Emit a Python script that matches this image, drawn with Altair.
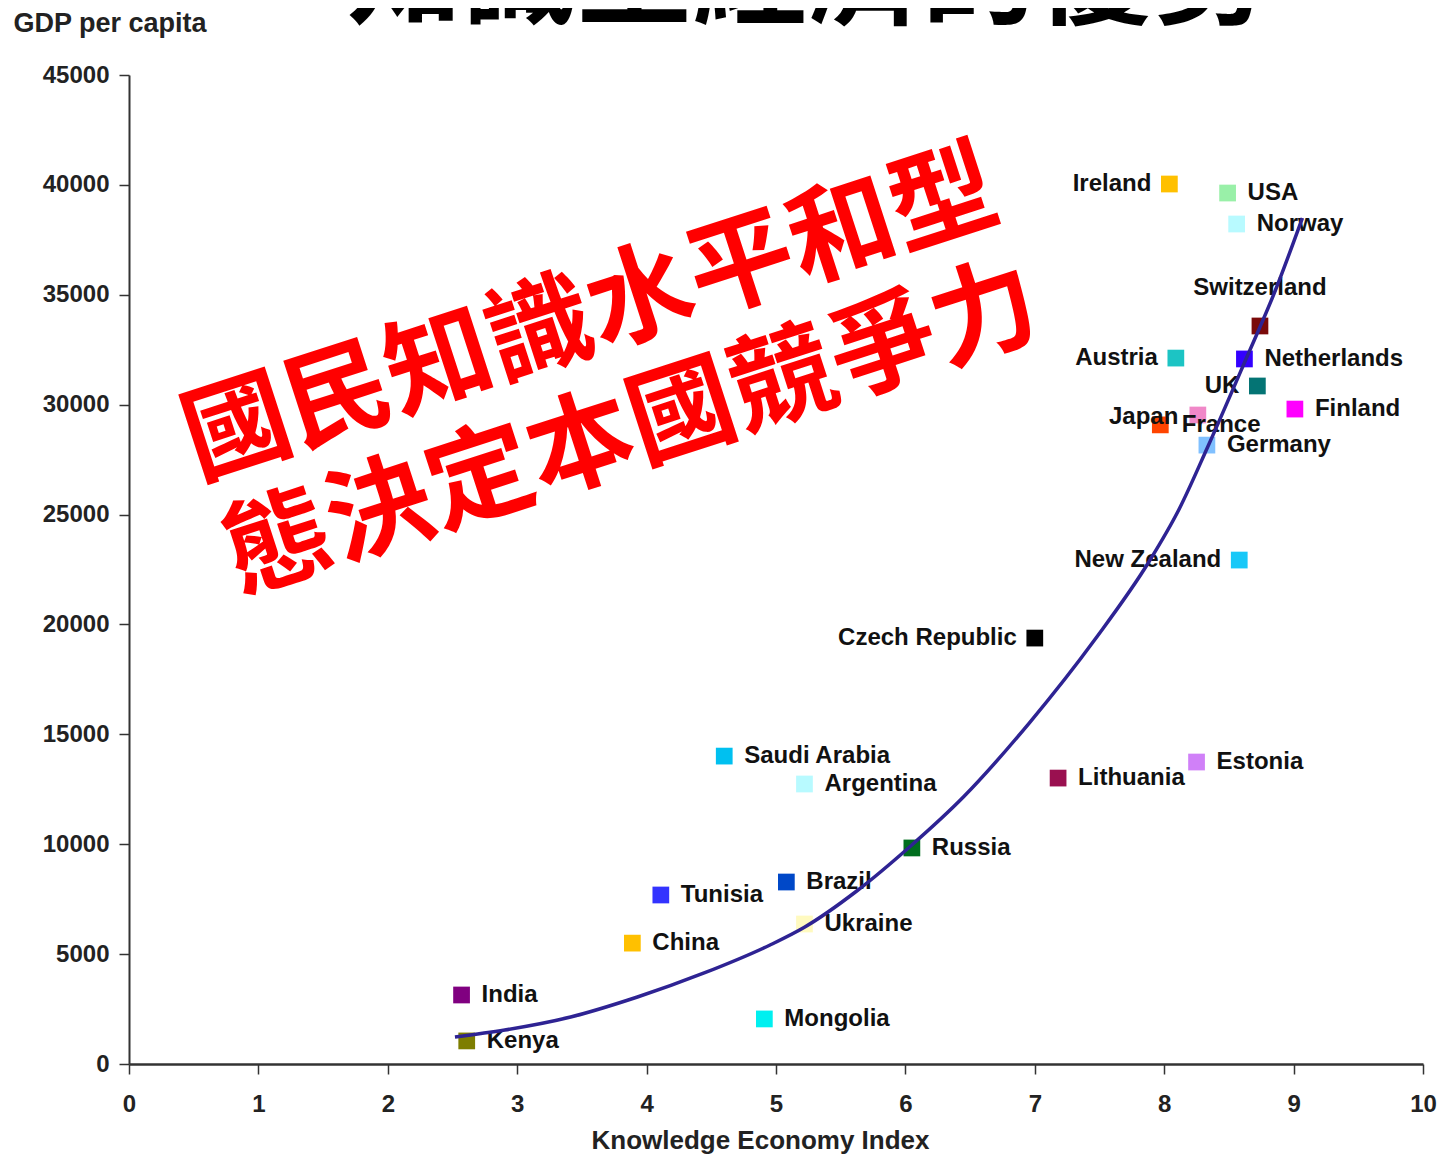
import altair as alt
import pandas as pd

# ---- data ----
countries = ["Ireland", "USA", "Norway", "Switzerland", "Austria", "Netherlands", "UK",
             "Finland", "France", "Japan", "Germany", "New Zealand", "Czech Republic",
             "Saudi Arabia", "Argentina", "Lithuania", "Estonia", "Russia", "Brazil",
             "Tunisia", "Ukraine", "China", "India", "Mongolia", "Kenya"]
kei = [8.04, 8.49, 8.56, 8.74, 8.09, 8.62, 8.72, 9.01, 8.26, 7.97, 8.33, 8.58, 7.00,
       4.60, 5.22, 7.18, 8.25, 6.05, 5.08, 4.11, 5.22, 3.89, 2.57, 4.91, 2.61]
gdp = [40040, 39630, 38220, 33580, 32120, 32080, 30850, 29800, 29530, 29080, 28160,
       22930, 19380, 14010, 12740, 13010, 13740, 9830, 8280, 7690, 6370, 5500, 3140,
       2050, 1050]
colors = ["#FFC000", "#99F0A8", "#B8FAFF", "#7A0A0A", "#1CC4C4", "#3300FF", "#047474",
          "#FF00FF", "#F088C8", "#FF4400", "#80C0FF", "#18C8F8", "#000000",
          "#00C0F0", "#B8FAFF", "#9A1050", "#D080F8", "#006E1E", "#0048C8",
          "#3333FF", "#FFFAC0", "#FFC000", "#800080", "#00F0F0", "#7E7E00"]
placement = ["left", "right", "right", "above", "left", "right", "left",
             "right", "overlap_low", "overlap_high", "right", "left", "left",
             "right", "right", "right", "right", "right", "right",
             "right", "right", "right", "right", "right", "right"]

# trend curve, points
curve_x = [2.519, 2.904, 3.413, 3.929, 4.445, 4.954, 5.223, 5.624, 6.032, 6.448,
           6.957, 7.473, 7.881, 8.112, 8.336, 8.629, 8.860, 9.068]
curve_y = [1228, 1547, 2139, 3048, 4141, 5415, 6234, 7871, 9874, 12148,
           15515, 19383, 22841, 25207, 28074, 32032, 35217, 38493]

x_ticks = list(range(0, 11))
y_ticks = list(range(0, 45001, 5000))

overlay_lines = ["國民知識水平和型", "態決定本國競爭力"]
overlay_x = [3.57, 3.89]
overlay_y = [34000, 28750]
top_title = ["知識型經濟的優勢"]
top_title_x = [5.24]
top_title_y = [47730]

pts = pd.DataFrame({"country": countries, "kei": kei, "gdp": gdp, "place": placement})
curve = pd.DataFrame({"kei": curve_x, "gdp": curve_y})
overlay = pd.DataFrame({"txt": overlay_lines, "kei": overlay_x, "gdp": overlay_y})
ttl = pd.DataFrame({"txt": top_title, "kei": top_title_x, "gdp": top_title_y})

LF = "Liberation Sans"
xs = alt.Scale(domain=[0, 10], nice=False)
ys = alt.Scale(domain=[0, 45000], nice=False)

x_axis = alt.Axis(values=x_ticks, format="d", title="Knowledge Economy Index", titleFont=LF,
                  titleFontSize=26, titleFontWeight="bold", titleColor="#222",
                  titleX=631, titleY=76, titleBaseline="middle",
                  labelFont=LF, labelFontSize=24, labelFontWeight="bold",
                  labelColor="#222", labelPadding=18, labelFlush=False,
                  tickSize=10, tickColor="#333", tickWidth=1.5,
                  domainColor="#333", domainWidth=2.5, grid=False)
y_axis = alt.Axis(values=y_ticks, format="d", title="GDP per capita", titleFont=LF,
                  titleFontSize=27, titleFontWeight="bold", titleColor="#222",
                  titleAngle=0, titleX=-116, titleY=-52, titleAlign="left",
                  titleBaseline="middle",
                  labelFont=LF, labelFontSize=24, labelFontWeight="bold",
                  labelColor="#222", labelPadding=10, labelFlush=False,
                  tickSize=10, tickColor="#333", tickWidth=1.5,
                  domainColor="#333", domainWidth=2, grid=False)

base = alt.Chart(pts).encode(
    x=alt.X("kei:Q", scale=xs, axis=x_axis),
    y=alt.Y("gdp:Q", scale=ys, axis=y_axis),
)

squares = base.mark_square(size=280, opacity=1).encode(
    color=alt.Color("country:N", scale=alt.Scale(domain=countries, range=colors), legend=None)
)


def labels(place, **kw):
    return base.transform_filter(alt.datum.place == place).mark_text(
        font=LF, fontSize=24, fontWeight="bold", color="#111", baseline="middle", **kw
    ).encode(text="country:N")


lab_right = labels("right", align="left", dx=20)
lab_left = labels("left", align="right", dx=-18)
lab_above = labels("above", align="center", dy=-38)
lab_low = labels("overlap_low", align="left", dx=-16, dy=10)
lab_high = labels("overlap_high", align="right", dx=18, dy=-8)

trend = alt.Chart(curve).mark_line(color="#2E2393", strokeWidth=3.5,
                                   interpolate="monotone").encode(
    x=alt.X("kei:Q", scale=xs), y=alt.Y("gdp:Q", scale=ys))

red = alt.Chart(overlay).mark_text(
    font="Noto Sans CJK TC", fontSize=106, fontWeight="bold", color="#FF0000",
    angle=342, align="center", baseline="middle"
).encode(x=alt.X("kei:Q", scale=xs), y=alt.Y("gdp:Q", scale=ys), text="txt:N")

black_title = alt.Chart(ttl).mark_text(
    font="Noto Sans CJK TC", fontSize=115, fontWeight="bold", color="#000000",
    align="center", baseline="alphabetic"
).encode(x=alt.X("kei:Q", scale=xs), y=alt.Y("gdp:Q", scale=ys), text="txt:N")

chart = alt.layer(
    squares, lab_right, lab_left, lab_above, lab_low, lab_high, trend, red, black_title
).properties(
    width=1294, height=989,
    autosize=alt.AutoSizeParams(type="none"),
    padding={"left": 121, "top": 67, "right": 16, "bottom": 92},
    background="white",
).configure_view(stroke=None)

chart.save("out.html", embed_options={"renderer": "svg", "actions": False})
